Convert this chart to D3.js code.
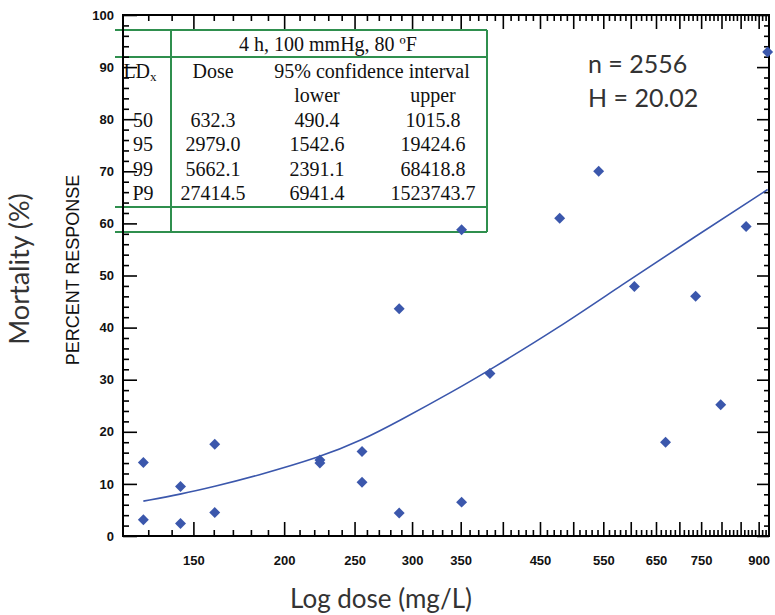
<!DOCTYPE html>
<html>
<head>
<meta charset="utf-8">
<script src="https://cdn.jsdelivr.net/npm/d3@7"></script>
<style>
  body { margin: 0; background: #fff; }
  svg { display: block; }
</style>
</head>
<body>
<svg id="chart" width="775" height="615"></svg>
<script>
// scatter: dose (mg/L) and percent response
var doses    = [128, 128, 144, 144, 160.5, 160.5, 224, 224, 256, 256, 288, 288, 351, 351, 384, 479, 542, 607, 670, 737, 798, 865, 926];
var percents = [14.1, 3.1, 9.5, 2.4, 17.6, 4.5, 14.6, 14.0, 16.2, 10.3, 43.6, 4.4, 58.8, 6.5, 31.2, 61.0, 70.0, 47.9, 18.0, 46.0, 25.2, 59.4, 92.9];

// fitted curve
var fitDoses    = [128, 144, 160.5, 182.7, 224, 256, 288, 344, 384, 479, 579, 731, 926];
var fitPercents = [6.7, 8.0, 9.5, 11.5, 15.1, 18.4, 22.1, 28.0, 31.9, 40.1, 47.9, 57.2, 66.5];

// axis ticks
var xLabels = [150, 200, 250, 300, 350, 450, 550, 650, 750, 900];
var xMajor = [150, 200, 250, 300, 350, 400, 450, 500, 550, 600, 650, 700, 750, 800, 850, 900];
var xMinor = d3.range(130, 930, 10).filter(function(v){ return v % 50 !== 0; });
var yLabels = d3.range(0, 101, 10);
var yMinor = d3.range(2, 100, 2).filter(function(v){ return v % 10 !== 0; });

// table
var tableTitle = "4 h, 100 mmHg, 80 \u00baF";
var ldRows = ["50", "95", "99", "P9"];
var doseCol = ["632.3", "2979.0", "5662.1", "27414.5"];
var lowerCol = ["490.4", "1542.6", "2391.1", "6941.4"];
var upperCol = ["1015.8", "19424.6", "68418.8", "1523743.7"];

var svg = d3.select("#chart");

var plotLeft = 123, plotRight = 769, plotTop = 15, plotBottom = 536;

var x = d3.scaleLog().domain([120, 930]).range([plotLeft, plotRight]);
var y = d3.scaleLinear().domain([0, 100]).range([plotBottom, plotTop]);

var blue = "#3b57ac";
var green = "#2f8f4e";

// ---- table (drawn first, under axes and points)
var tbl = svg.append("g");
var lineYs = [30, 57, 207, 232];
lineYs.forEach(function(ly){
  tbl.append("line")
    .attr("x1", 115).attr("x2", 487)
    .attr("y1", ly).attr("y2", ly)
    .attr("stroke", green).attr("stroke-width", 2);
});
[171, 487].forEach(function(lx){
  tbl.append("line")
    .attr("x1", lx).attr("x2", lx)
    .attr("y1", 30).attr("y2", 232)
    .attr("stroke", green).attr("stroke-width", 2);
});

function cell(txt, cx, by){
  return tbl.append("text")
    .attr("x", cx).attr("y", by)
    .attr("text-anchor", "middle")
    .attr("font-family", "Liberation Serif, Times New Roman, serif")
    .attr("font-size", "20px")
    .attr("fill", "#111")
    .text(txt);
}
cell(tableTitle, 328, 51);
var ldx = cell("LD", 140, 78);
ldx.append("tspan").attr("font-size", "13px").attr("dy", 3).text("x");
cell("Dose", 213, 78);
cell("95% confidence interval", 372, 78);
cell("lower", 317, 102);
cell("upper", 433, 102);
var rowYs = [127, 151, 176, 200];
ldRows.forEach(function(r, i){
  cell(r, 143, rowYs[i]);
  cell(doseCol[i], 213, rowYs[i]);
  cell(lowerCol[i], 317, rowYs[i]);
  cell(upperCol[i], 433, rowYs[i]);
});

// ---- axes
function tickAxis(axis, vals, size, tx, ty){
  var g = svg.append("g")
    .attr("transform", "translate(" + tx + "," + ty + ")")
    .call(axis.tickValues(vals).tickSize(size).tickSizeOuter(0).tickFormat(""));
  g.select(".domain").remove();
  g.selectAll("line").attr("stroke", "#000").attr("stroke-width", 1.6);
  return g;
}
tickAxis(d3.axisBottom(x), xMajor, -14, 0, plotBottom);
tickAxis(d3.axisBottom(x), xMinor, -6, 0, plotBottom);
tickAxis(d3.axisTop(x), xMajor, -14, 0, plotTop);
tickAxis(d3.axisTop(x), xMinor, -6, 0, plotTop);
tickAxis(d3.axisLeft(y), yLabels, -14, plotLeft, 0);
tickAxis(d3.axisLeft(y), yMinor, -6, plotLeft, 0);
tickAxis(d3.axisRight(y), yLabels, -12, plotRight, 0);
tickAxis(d3.axisRight(y), yMinor, -5, plotRight, 0);

svg.append("rect")
  .attr("x", plotLeft).attr("y", plotTop)
  .attr("width", plotRight - plotLeft).attr("height", plotBottom - plotTop)
  .attr("fill", "none").attr("stroke", "#000").attr("stroke-width", 2);

var xl = svg.append("g")
  .attr("transform", "translate(0," + plotBottom + ")")
  .call(d3.axisBottom(x).tickValues(xLabels).tickSize(0).tickPadding(20).tickFormat(d3.format("d")));
xl.select(".domain").remove();
xl.selectAll("text")
  .attr("font-family", "Liberation Sans, Arial, sans-serif")
  .attr("font-weight", "bold").attr("font-size", "13px").attr("fill", "#111");

var yl = svg.append("g")
  .attr("transform", "translate(" + plotLeft + ",0)")
  .call(d3.axisLeft(y).tickValues(yLabels).tickSize(0).tickPadding(9).tickFormat(d3.format("d")));
yl.select(".domain").remove();
yl.selectAll("text")
  .attr("font-family", "Liberation Sans, Arial, sans-serif")
  .attr("font-weight", "bold").attr("font-size", "13px").attr("fill", "#111");

// ---- fitted line
var line = d3.line()
  .x(function(d, i){ return x(fitDoses[i]); })
  .y(function(d){ return y(d); })
  .curve(d3.curveBasis);
svg.append("path")
  .datum(fitPercents)
  .attr("d", line)
  .attr("fill", "none")
  .attr("stroke", blue)
  .attr("stroke-width", 1.6);

// ---- points
svg.selectAll(".pt")
  .data(percents)
  .enter().append("path")
  .attr("class", "pt")
  .attr("d", d3.symbol().type(d3.symbolSquare).size(60))
  .attr("transform", function(d, i){
    return "translate(" + x(doses[i]) + "," + y(d) + ") rotate(45)";
  })
  .attr("fill", blue);

// ---- labels
svg.append("text")
  .attr("transform", "translate(79,270) rotate(-90)")
  .attr("text-anchor", "middle")
  .attr("font-family", "Liberation Sans, Arial, sans-serif")
  .attr("font-size", "18px")
  .attr("fill", "#111")
  .text("PERCENT RESPONSE");

svg.append("text")
  .attr("transform", "translate(29,269) rotate(-90)")
  .attr("text-anchor", "middle")
  .attr("font-family", "Lato, Open Sans, sans-serif")
  .attr("font-size", "27px")
  .attr("fill", "#333")
  .text("Mortality (%)");

svg.append("text")
  .attr("x", 381).attr("y", 608)
  .attr("text-anchor", "middle")
  .attr("font-family", "Lato, Open Sans, sans-serif")
  .attr("font-size", "26px")
  .attr("fill", "#333")
  .text("Log dose (mg/L)");

svg.append("text")
  .attr("x", 588).attr("y", 73)
  .attr("font-family", "Lato, Open Sans, sans-serif")
  .attr("font-size", "25px")
  .attr("fill", "#333")
  .text("n = 2556");

svg.append("text")
  .attr("x", 588).attr("y", 107)
  .attr("font-family", "Lato, Open Sans, sans-serif")
  .attr("font-size", "25px")
  .attr("fill", "#333")
  .text("H = 20.02");
</script>
</body>
</html>
